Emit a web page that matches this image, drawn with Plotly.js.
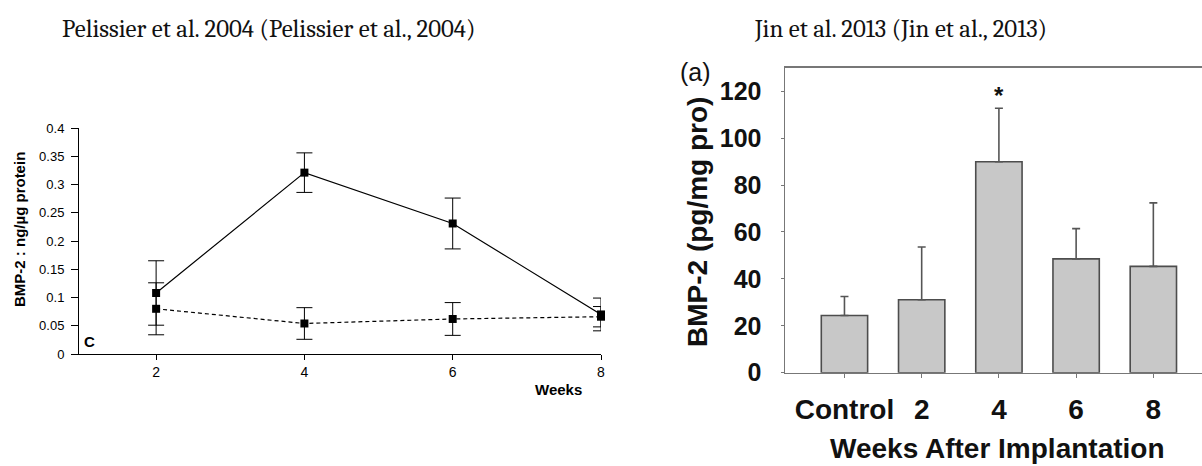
<!DOCTYPE html>
<html><head><meta charset="utf-8">
<script src="https://cdn.plot.ly/plotly-3.0.1.min.js"></script>
<style>html,body{margin:0;padding:0;background:#fff}#chart{width:1202px;height:466px}</style>
</head><body><div id="chart"></div>
<script>
// Pelissier et al. 2004
const weeks = [2, 4, 6, 8];
const weekLabels = ['2', '4', '6', '8'];
const solidValues = [0.108, 0.321, 0.231, 0.070];
const solidErrors = [0.057, 0.035, 0.045, 0.029];
const dashedValues = [0.080, 0.054, 0.062, 0.066];
const dashedErrors = [0.046, 0.028, 0.029, 0.018];
const leftYTicks = [0, 0.05, 0.1, 0.15, 0.2, 0.25, 0.3, 0.35, 0.4];
// Jin et al. 2013
const jinCategories = ['Control', '2', '4', '6', '8'];
const jinValues = [24.4, 31.1, 89.9, 48.5, 45.3];
const jinErrors = [8.1, 22.5, 22.8, 12.9, 27.1];
const jinSignificant = ['', '', '*', '', ''];
const rightYTicks = [0, 20, 40, 60, 80, 100, 120];

const W = 1202, H = 466;
const px = v => v / W, py = v => 1 - v / H;
const SANS = 'Arial, "Liberation Sans", sans-serif';
const SERIF = 'Cambria, "DejaVu Serif", serif';

const traces = [
  {
    x: weeks, y: solidValues, type: 'scatter', mode: 'lines+markers',
    xaxis: 'x', yaxis: 'y', cliponaxis: false,
    line: {color: '#000', width: 1.2},
    marker: {symbol: 'square', size: 8, color: '#000'},
    error_y: {type: 'data', array: solidErrors, visible: true, color: '#000', thickness: 1, width: 8}
  },
  {
    x: weeks, y: dashedValues, type: 'scatter', mode: 'lines+markers',
    xaxis: 'x', yaxis: 'y', cliponaxis: false,
    line: {color: '#000', width: 1.2, dash: '4px,3px'},
    marker: {symbol: 'square', size: 8, color: '#000'},
    error_y: {type: 'data', array: dashedErrors, visible: true, color: '#000', thickness: 1, width: 8}
  },
  {
    x: jinCategories, y: jinValues, type: 'bar', xaxis: 'x2', yaxis: 'y2', width: 0.6,
    marker: {color: '#c8c8c8', line: {color: '#4d4d4d', width: 1.6}},
    error_y: {type: 'data', symmetric: false, array: jinErrors, arrayminus: jinErrors.map(() => 0),
              visible: true, color: '#555', thickness: 1.6, width: 4}
  }
];

const annotations = [
  {text: 'Pelissier et al. 2004 (Pelissier et al., 2004)', xref: 'paper', yref: 'paper',
   x: px(268), y: py(29), xanchor: 'center', yanchor: 'middle', showarrow: false,
   font: {family: SERIF, size: 24.8, color: '#111'}},
  {text: 'Jin et al. 2013 (Jin et al., 2013)', xref: 'paper', yref: 'paper',
   x: px(900), y: py(29), xanchor: 'center', yanchor: 'middle', showarrow: false,
   font: {family: SERIF, size: 24.8, color: '#111'}},
  {text: 'BMP-2 : ng/µg protein', xref: 'paper', yref: 'paper', textangle: -90,
   x: px(19), y: py(230), xanchor: 'center', yanchor: 'middle', showarrow: false,
   font: {family: SANS, size: 15, color: '#000', weight: 'bold'}},
  {text: 'Weeks', xref: 'paper', yref: 'paper',
   x: px(558), y: py(389), xanchor: 'center', yanchor: 'middle', showarrow: false,
   font: {family: SANS, size: 15, color: '#000', weight: 'bold'}},
  {text: 'C', xref: 'paper', yref: 'paper',
   x: px(89), y: py(341), xanchor: 'center', yanchor: 'middle', showarrow: false,
   font: {family: SANS, size: 15, color: '#000', weight: 'bold'}},
  {text: '(a)', xref: 'paper', yref: 'paper',
   x: px(695), y: py(72), xanchor: 'center', yanchor: 'middle', showarrow: false,
   font: {family: SANS, size: 25, color: '#111'}},
  {text: 'BMP-2 (pg/mg pro)', xref: 'paper', yref: 'paper', textangle: -90,
   x: px(697), y: py(222), xanchor: 'center', yanchor: 'middle', showarrow: false,
   font: {family: SANS, size: 28, color: '#111', weight: 'bold'}},
  {text: 'Weeks After Implantation', xref: 'paper', yref: 'paper',
   x: px(997), y: py(448), xanchor: 'center', yanchor: 'middle', showarrow: false,
   font: {family: SANS, size: 28, color: '#111', weight: 'bold'}}
];
jinSignificant.forEach((s, i) => {
  if (s) annotations.push({
    text: s, xref: 'x2', yref: 'y2', x: i, y: jinValues[i] + jinErrors[i],
    yanchor: 'bottom', yshift: -3, showarrow: false,
    font: {family: SANS, size: 24, color: '#111', weight: 'bold'}
  });
});

const layout = {
  width: W, height: H, showlegend: false,
  margin: {l: 0, r: 0, t: 0, b: 0},
  paper_bgcolor: '#fff', plot_bgcolor: 'rgba(0,0,0,0)',
  xaxis: {
    domain: [px(79), px(601)], range: [0.96, 8], anchor: 'y',
    tickvals: weeks, ticktext: weekLabels, ticks: 'outside', ticklen: 5, tickcolor: '#000',
    showline: true, linecolor: '#000', linewidth: 1, showgrid: false, zeroline: false,
    tickfont: {family: SANS, size: 14, color: '#000'}
  },
  yaxis: {
    domain: [py(354), py(128)], range: [0, 0.4], anchor: 'x',
    tickvals: leftYTicks, ticks: 'outside', ticklen: 7, tickcolor: '#000',
    showline: true, linecolor: '#000', linewidth: 1, showgrid: false, zeroline: false,
    tickfont: {family: SANS, size: 13, color: '#000'}, ticklabelstandoff: 4
  },
  xaxis2: {
    domain: [px(785), 1], range: [-0.77, 4.63], anchor: 'y2', type: 'category',
    ticks: 'outside', ticklen: 4, tickcolor: '#777',
    showline: true, mirror: true, linecolor: '#777', linewidth: 1.5, showgrid: false, zeroline: false,
    tickfont: {family: SANS, size: 28, color: '#111', weight: 'bold'}, ticklabelstandoff: 7
  },
  yaxis2: {
    domain: [py(372.7), py(67.7)], range: [0, 130], anchor: 'x2',
    tickvals: rightYTicks, ticks: 'outside', ticklen: 3, tickcolor: '#777',
    showline: true, linecolor: '#777', linewidth: 1.5, showgrid: false, zeroline: false,
    tickfont: {family: SANS, size: 25, color: '#111', weight: 'bold'}, ticklabelstandoff: 14
  },
  annotations: annotations
};

Plotly.newPlot('chart', traces, layout, {staticPlot: true, displayModeBar: false});
</script></body></html>
